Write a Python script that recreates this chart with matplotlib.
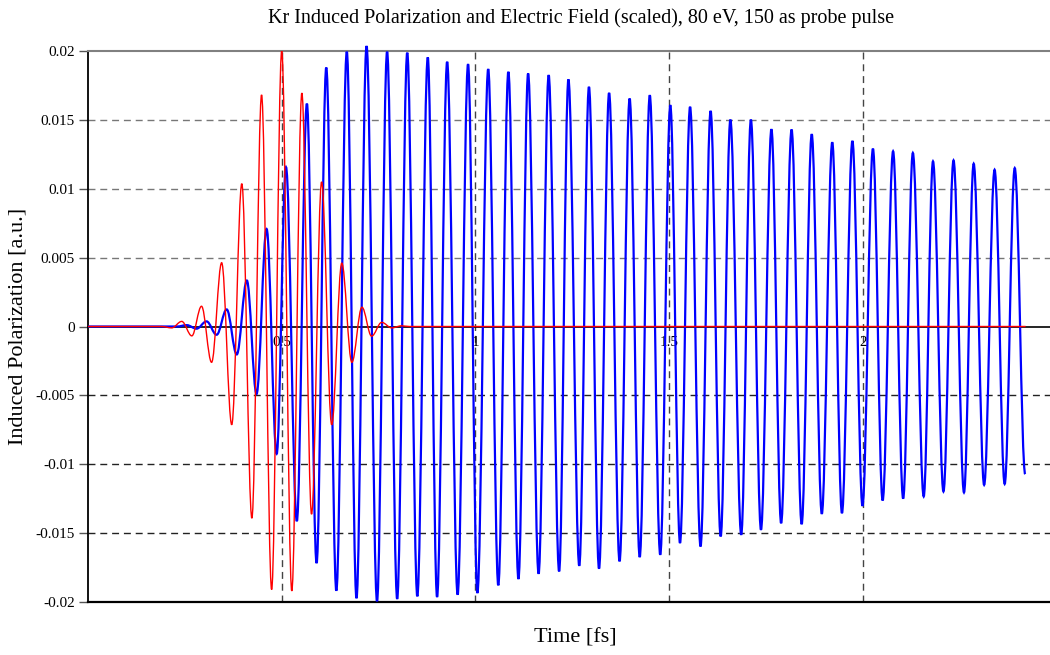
import matplotlib
matplotlib.use("Agg")
import matplotlib.pyplot as plt
from matplotlib.path import Path
import matplotlib.patches as mpatches

plt.rcParams['font.family'] = ['Liberation Serif', 'DejaVu Serif']

# probe field (scaled): turning points of the pulse, flat before and after
field_t = [0.0, 0.19, 0.216, 0.242, 0.268, 0.293, 0.319, 0.345, 0.371, 0.397,
           0.423, 0.448, 0.474, 0.500, 0.526, 0.552, 0.577, 0.603, 0.629, 0.655,
           0.681, 0.707, 0.732, 0.758, 0.784, 0.809, 0.83, 2.42]
field_v = [0.0, 0.0, -0.0001, 0.00037, -0.00068, 0.00147, -0.0026, 0.00463,
           -0.00713, 0.01037, -0.01392, 0.01682, -0.0191, 0.0200, -0.0192,
           0.01695, -0.01363, 0.0105, -0.00713, 0.0046, -0.0026, 0.0014,
           -0.0007, 0.0003, -0.0001, 0.00005, 0.0, 0.0]

# induced polarization: turning points
pol_t = [0.0, 0.23, 0.255, 0.280, 0.306, 0.332, 0.358, 0.384, 0.410, 0.435,
         0.461, 0.487, 0.511, 0.539, 0.565, 0.590, 0.615, 0.641, 0.668, 0.693,
         0.719, 0.746, 0.772, 0.798, 0.824, 0.850, 0.877, 0.901, 0.927, 0.954,
         0.981, 1.005, 1.033, 1.059, 1.085, 1.111, 1.136, 1.163, 1.189, 1.216,
         1.240, 1.268, 1.293, 1.319, 1.345, 1.372, 1.398, 1.424, 1.450, 1.477,
         1.503, 1.528, 1.554, 1.581, 1.607, 1.633, 1.658, 1.686, 1.711, 1.737,
         1.764, 1.789, 1.816, 1.842, 1.868, 1.894, 1.921, 1.946, 1.973, 1.999,
         2.026, 2.051, 2.078, 2.104, 2.129, 2.157, 2.181, 2.208, 2.234, 2.261,
         2.286, 2.313, 2.340, 2.366, 2.392, 2.419]
pol_v = [0.0, 0.0, 0.0001, -0.00016, 0.00037, -0.0006, 0.00124, -0.00203,
         0.00334, -0.0049, 0.00708, -0.00924, 0.01157, -0.01413, 0.01618,
         -0.01718, 0.0188, -0.01918, 0.01995, -0.01973, 0.02036, -0.01995,
         0.01995, -0.01978, 0.01988, -0.01959, 0.01954, -0.01964, 0.01922,
         -0.01947, 0.01905, -0.01935, 0.01869, -0.01879, 0.01849, -0.01833,
         0.01837, -0.01795, 0.01825, -0.01778, 0.01794, -0.01737, 0.0174,
         -0.01758, 0.01696, -0.01705, 0.01655, -0.01674, 0.01679, -0.01657,
         0.01607, -0.01572, 0.01595, -0.01597, 0.01565, -0.01524, 0.01502,
         -0.01512, 0.01502, -0.01476, 0.01432, -0.01428, 0.0143, -0.01435,
         0.01396, -0.0136, 0.01337, -0.01355, 0.01347, -0.01302, 0.01291,
         -0.01263, 0.01272, -0.01249, 0.0126, -0.01234, 0.01199, -0.01198,
         0.01206, -0.01205, 0.01182, -0.0115, 0.01138, -0.01143, 0.0115,
         -0.01072]

x_ticks = [0.5, 1, 1.5, 2]
x_labels = ['0.5', '1', '1.5', '2']
y_ticks = [-0.02, -0.015, -0.01, -0.005, 0, 0.005, 0.01, 0.015, 0.02]
y_labels = ['-0.02', '-0.015', '-0.01', '-0.005', '0', '0.005', '0.01', '0.015', '0.02']


def wave_path(ts, vs):
    # cubic segments with flat tangents at each turning point
    verts = [(ts[0], vs[0])]
    codes = [Path.MOVETO]
    for i in range(1, len(ts)):
        dt = ts[i] - ts[i - 1]
        verts += [(ts[i - 1] + 0.36 * dt, vs[i - 1]),
                  (ts[i] - 0.36 * dt, vs[i]),
                  (ts[i], vs[i])]
        codes += [Path.CURVE4] * 3
    return Path(verts, codes)


fig = plt.figure(figsize=(10.5, 6.55), dpi=100)
ax = fig.add_axes([88 / 1050, 1 - 602 / 655, 1 - 88 / 1050, (602 - 51) / 655])

ax.set_xlim(0, 2.483)
ax.set_ylim(-0.02, 0.02)

# dashed grid
dash = (0, (5, 3.5))
for yv in y_ticks[1:-1]:
    if yv == 0:
        continue
    ax.axhline(yv, color='#777777' if yv > 0 else '#222222', lw=1.0,
               linestyle=dash, zorder=1)
for xv in x_ticks:
    ax.axvline(xv, color='#444444', lw=1.0, linestyle=dash, zorder=1)

pol_line = mpatches.PathPatch(wave_path(pol_t, pol_v), facecolor='none',
                              edgecolor='#0000ff', lw=1.6, zorder=3, clip_on=False)
field_line = mpatches.PathPatch(wave_path(field_t, field_v), facecolor='none',
                                edgecolor='#ff0000', lw=1.0, zorder=4)
ax.add_patch(pol_line)
ax.add_patch(field_line)

# frame: x axis through zero, separate bottom border
ax.spines['right'].set_visible(False)
ax.spines['top'].set_color('#808080')
ax.spines['top'].set_linewidth(1.5)
ax.spines['left'].set_linewidth(1.3)
ax.spines['bottom'].set_position(('data', 0))
ax.spines['bottom'].set_linewidth(1.2)
ax.spines['bottom'].set_zorder(2)
ax.axhline(-0.02, color='black', lw=1.6, clip_on=False, zorder=2)

ax.set_xticks(x_ticks)
ax.set_xticklabels(x_labels)
ax.set_yticks(y_ticks)
ax.set_yticklabels(y_labels)
ax.tick_params(axis='x', length=0, pad=7, labelsize=11)
ax.tick_params(axis='y', direction='out', length=6.5, width=1.0,
               color='#555555', pad=3, labelsize=11)

fig.text(581 / 1050, 1 - 18 / 655,
         'Kr Induced Polarization and Electric Field (scaled), 80 eV, 150 as probe pulse',
         ha='center', va='center', fontsize=14.5)
fig.text(575 / 1050, 1 - 638 / 655, 'Time [fs]', ha='center', va='center', fontsize=16)
fig.text(18 / 1050, 1 - 326 / 655, 'Induced Polarization [a.u.]', ha='center',
         va='center', rotation=90, fontsize=16)

plt.savefig("out.png", dpi=100)
